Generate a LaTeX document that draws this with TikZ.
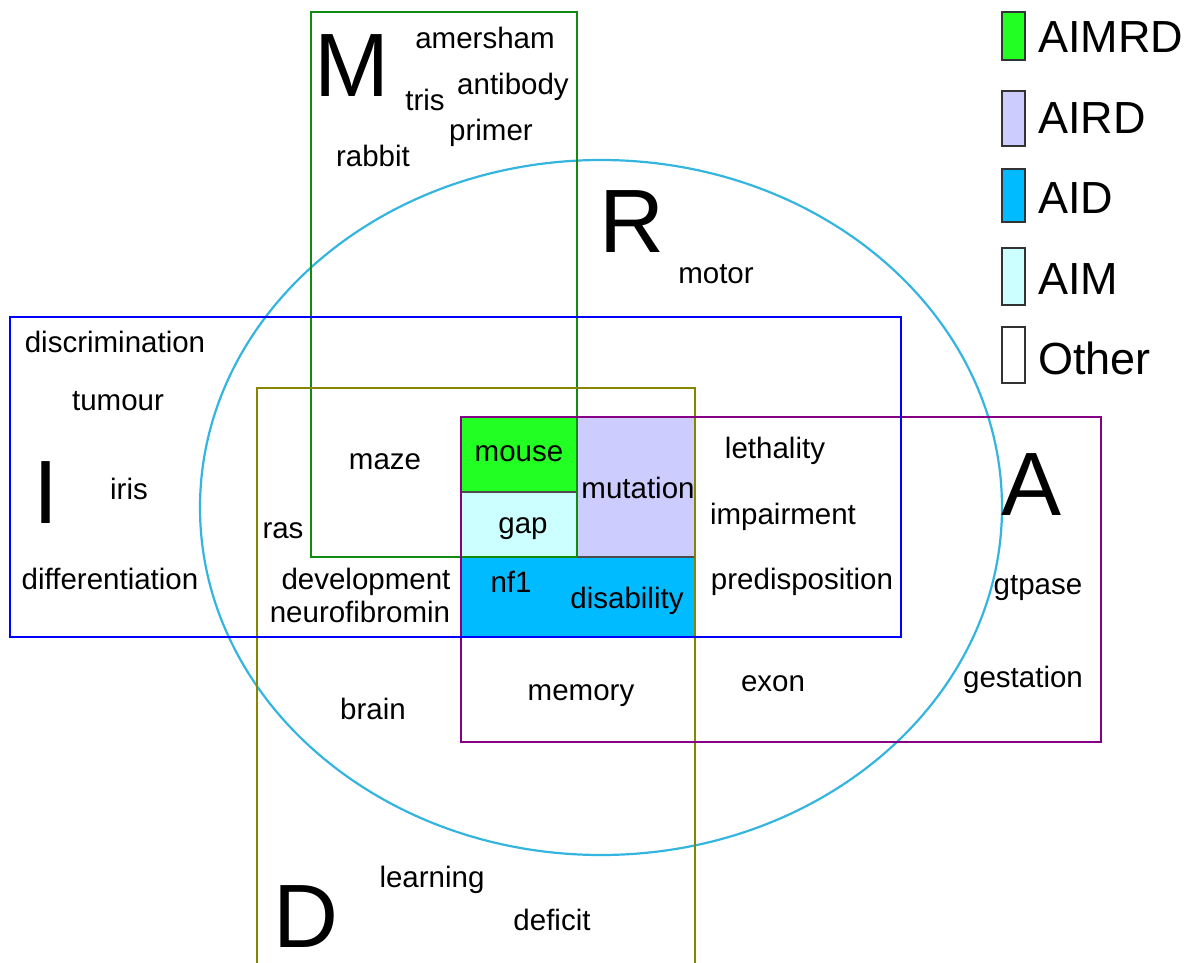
\documentclass[tikz,border=0pt]{standalone}
\usepackage{fontspec}
\setmainfont{Liberation Sans}
\definecolor{cEll}{HTML}{33B5E0}
\definecolor{cM}{HTML}{108A10}
\definecolor{cI}{HTML}{0000FF}
\definecolor{cD}{HTML}{858500}
\definecolor{cA}{HTML}{850085}
\definecolor{fAIMRD}{HTML}{22FF22}
\definecolor{fAIRD}{HTML}{CCCCFF}
\definecolor{fAID}{HTML}{00BBFF}
\definecolor{fAIM}{HTML}{CCFFFF}
\begin{document}
\begin{tikzpicture}[x=1pt,y=-1pt,
  word/.style={font=\fontsize{29.5}{34}\selectfont, inner sep=0pt, text height=21pt, text depth=6pt, yshift=-3pt},
  big/.style={font=\fontsize{90}{100}\selectfont, inner sep=0pt, anchor=base},
  legtext/.style={font=\fontsize{45}{50}\selectfont, inner sep=0pt, anchor=base west},
  legbox/.style={draw=black!80, line width=1.2},
  setline/.style={line width=2.2}]
\useasboundingbox (0,0) rectangle (1184,963);
% filled regions
\fill[fAIMRD] (461,417) rectangle (577,492);
\fill[fAIM] (461,492) rectangle (577,557);
\fill[fAIRD] (577,417) rectangle (695,557);
\fill[fAID] (461,557) rectangle (695,637);
\draw[black!70, line width=1.2] (461,492) -- (577,492);
\draw[black!70, line width=1.2] (577,557) -- (695,557);
% sets
\draw[setline, cEll] (601,507.5) ellipse [x radius=401, y radius=347.5];
\draw[setline, cM] (311,12) rectangle (577,557);
\draw[setline, cD] (257,970) -- (257,388) -- (695,388) -- (695,970);
\draw[setline, cA] (461,417) rectangle (1101,742);
\draw[setline, cI] (10,317) rectangle (901,637);
% big letters
\node[big] (M) at (352,97) {M};
\node[big] (R) at (632,252) {R};
\node[big] (I) at (46,523) {I};
\node[big] (A) at (1032,515) {A};
\node[big] (D) at (306,947) {D};
% words
\node[word] (w1) at (485,38) {amersham};
\node[word] (w2) at (425,100) {tris};
\node[word] (w3) at (513,84) {antibody};
\node[word] (w4) at (491,130) {primer};
\node[word] (w5) at (373,156) {rabbit};
\node[word] (w6) at (716,273) {motor};
\node[word] (w7) at (115,342) {discrimination};
\node[word] (w8) at (118,400) {tumour};
\node[word] (w9) at (129,489) {iris};
\node[word] (w10) at (110,579) {differentiation};
\node[word] (w11) at (385,459) {maze};
\node[word] (w12) at (283,528) {ras};
\node[word] (w13) at (366,579) {development};
\node[word] (w14) at (360,612) {neurofibromin};
\node[word] (w15) at (519,451) {mouse};
\node[word] (w16) at (523,523) {gap};
\node[word] (w17) at (638,488) {mutation};
\node[word] (w18) at (511,582) {nf1};
\node[word] (w19) at (627,598) {disability};
\node[word] (w20) at (775,448) {lethality};
\node[word] (w21) at (783,514) {impairment};
\node[word] (w22) at (802,579) {predisposition};
\node[word] (w23) at (1038,584) {gtpase};
\node[word] (w24) at (1023,677) {gestation};
\node[word] (w25) at (773,681) {exon};
\node[word] (w26) at (581,690) {memory};
\node[word] (w27) at (373,709) {brain};
\node[word] (w28) at (432,877) {learning};
\node[word] (w29) at (552,920) {deficit};
% legend
\draw[legbox, fill=fAIMRD] (1002,12) rectangle (1025,60);
\draw[legbox, fill=fAIRD] (1002,91) rectangle (1025,146);
\draw[legbox, fill=fAID] (1002,169) rectangle (1025,222);
\draw[legbox, fill=fAIM] (1002,248) rectangle (1025,305);
\draw[legbox, fill=white] (1002,327) rectangle (1025,383);
\node[legtext] (l1) at (1038,53) {AIMRD};
\node[legtext] (l2) at (1038,134) {AIRD};
\node[legtext] (l3) at (1038,213) {AID};
\node[legtext] (l4) at (1038,294) {AIM};
\node[legtext] (l5) at (1038,374) {Other};
\end{tikzpicture}
\end{document}
